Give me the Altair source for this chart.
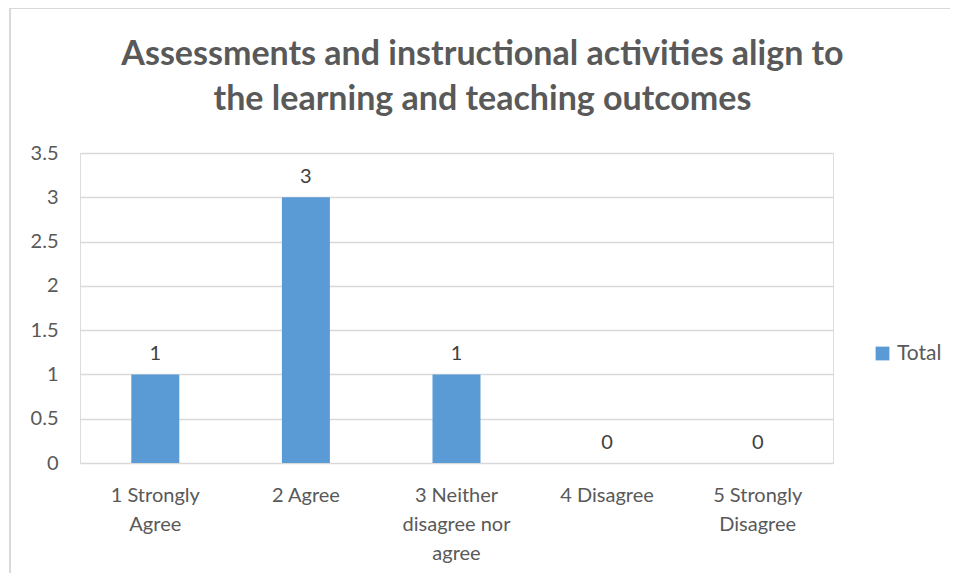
import altair as alt
import pandas as pd

categories = ["1 Strongly|Agree", "2 Agree", "3 Neither|disagree nor|agree", "4 Disagree", "5 Strongly|Disagree"]
values = [1, 3, 1, 0, 0]
series = ["Total"] * 5

df = pd.DataFrame({"category": categories, "value": values, "series": series})

title_lines = ["Assessments and instructional activities align to", "the learning and teaching outcomes"]
FONT = "Lato"
TXT = "#595959"

base = alt.Chart(df)

bars = base.mark_bar(size=48).encode(
    x=alt.X("category:N", sort=categories, title=None,
            scale=alt.Scale(paddingInner=0, paddingOuter=0),
            axis=alt.Axis(labelExpr="split(datum.label, '|')", labelAngle=0,
                          labelFontSize=20, labelColor=TXT, labelFont=FONT,
                          labelLineHeight=29, labelPadding=22, ticks=False,
                          domain=False, labelBaseline="top")),
    y=alt.Y("value:Q", title=None,
            scale=alt.Scale(domain=[0, 3.5]),
            axis=alt.Axis(values=[0, 0.5, 1, 1.5, 2, 2.5, 3, 3.5], format="~g",
                          labelFontSize=20,
                          labelColor=TXT, labelFont=FONT, labelPadding=22,
                          ticks=False, domain=False, gridColor="#d9d9d9",
                          gridWidth=1.3)),
    color=alt.Color("series:N", scale=alt.Scale(range=["#5b9bd5"]), title=None,
                    legend=alt.Legend(orient="none", legendX=792, legendY=190,
                                      symbolType="square", symbolSize=190,
                                      symbolStrokeWidth=0, labelFontSize=21,
                                      labelColor=TXT, labelFont=FONT, labelOffset=4)),
)

labels = base.mark_text(fontSize=20, color="#404040", font=FONT, baseline="bottom", dy=-10).encode(
    x=alt.X("category:N", sort=categories),
    y=alt.Y("value:Q"),
    text=alt.Text("value:Q"),
)

frame = alt.Chart(df).mark_rect(fill=None, stroke="#d9d9d9", strokeWidth=1.3).encode(
    x=alt.value(-70), x2=alt.value(900), y=alt.value(-145), y2=alt.value(440)
)

chart = (frame + bars + labels).properties(
    width=753, height=310,
    title=alt.Title(title_lines, fontSize=34, font=FONT, fontWeight="bold", color=TXT,
                    anchor="middle", frame="group", dx=26, offset=-137, lineHeight=45,
                    baseline="alphabetic"),
    autosize=alt.AutoSizeParams(type="none"),
    padding={"left": 72, "top": 145, "right": 117, "bottom": 110},
).configure_view(stroke=None).configure(background="white")

chart.save("out.html", embed_options={"renderer": "svg", "actions": False})
